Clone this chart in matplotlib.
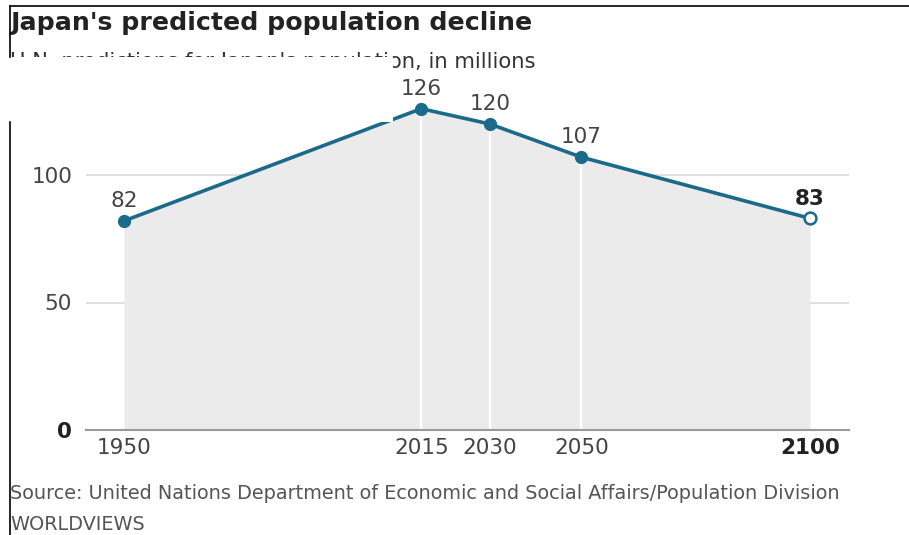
import matplotlib.pyplot as plt
from matplotlib.patches import Rectangle
from matplotlib.lines import Line2D

# datos
anios = [1950, 2015, 2030, 2050, 2100]
poblacion = [82, 126, 120, 107, 83]
etiquetas_y = [0, 50, 100]

titulo = "Japan's predicted population decline"
subtitulo = "U.N. predictions for Japan's population, in millions"
fuente = "Source: United Nations Department of Economic and Social Affairs/Population Division"
firma = "WORLDVIEWS"

AZUL = '#1a6a8a'
GRIS_TEXTO = '#444444'

plt.rcParams['font.family'] = ['DejaVu Sans']

fig = plt.figure(figsize=(9.09, 5.35), dpi=100)
W, H = 909, 535

def fx(px):
    return px / W

def fy(py):
    return 1 - py / H

ax = fig.add_axes([fx(86), fy(430), fx(849) - fx(86), fy(85.75) - fy(430)])
ax.set_xlim(1950 - 38 / 4.573, 2100 + 39 / 4.573)
ax.set_ylim(0, 135)

# rejilla
for v in etiquetas_y[1:]:
    ax.axhline(v, color='#dddddd', lw=1.3, zorder=0)

# area bajo la curva
ax.fill_between(anios, poblacion, 0, color='#ebebeb', zorder=1, lw=0)

# lineas verticales blancas
for a, p in zip(anios[1:-1], poblacion[1:-1]):
    ax.plot([a, a], [0, p], color='white', lw=1.6, zorder=2)

# linea base
ax.axhline(0, color='#999999', lw=1.5, clip_on=False, zorder=3)

# linea y marcadores
ax.plot(anios, poblacion, color=AZUL, lw=2.6, zorder=4, clip_on=False)
ax.plot(anios[:-1], poblacion[:-1], 'o', color=AZUL, ms=8.5, zorder=5,
        clip_on=False)
ax.plot(anios[-1:], poblacion[-1:], 'o', mfc='white', mec=AZUL, mew=1.8,
        ms=8.5, zorder=5, clip_on=False)

# etiquetas de valores
for i, (a, p) in enumerate(zip(anios, poblacion)):
    ultimo = i == len(anios) - 1
    ax.annotate(str(p), (a, p), xytext=(0, 7), textcoords='offset points',
                ha='center', va='bottom', fontsize=15.5,
                color='#222222' if ultimo else GRIS_TEXTO,
                fontweight='bold' if ultimo else 'normal', zorder=6)

# ejes
for s in ax.spines.values():
    s.set_visible(False)
ax.set_yticks(etiquetas_y)
ax.set_yticklabels([str(v) for v in etiquetas_y])
ax.set_xticks(anios)
ax.set_xticklabels([str(a) for a in anios])
ax.tick_params(length=0, labelsize=15.5, colors=GRIS_TEXTO)
ax.tick_params(axis='y', pad=10)
ax.tick_params(axis='x', pad=6)
ax.get_yticklabels()[0].set_fontweight('bold')
ax.get_yticklabels()[0].set_color('#222222')
ax.get_xticklabels()[-1].set_fontweight('bold')
ax.get_xticklabels()[-1].set_color('#222222')

# textos
fig.text(fx(10), fy(30), titulo, fontsize=18.2, fontweight='bold',
         color='#222222', va='baseline', ha='left')
fig.text(fx(10), fy(68), subtitulo, fontsize=15.2, color='#333333',
         va='baseline', ha='left')
fig.text(fx(10), fy(499), fuente, fontsize=13.9, color='#555555',
         va='baseline', ha='left')
fig.text(fx(10), fy(530), firma, fontsize=13.9, color='#555555',
         va='baseline', ha='left')

# recuadro blanco y bordes de la captura
fig.patches.append(Rectangle((fx(9), fy(122)), fx(393) - fx(9), fy(57) - fy(122),
                             transform=fig.transFigure, facecolor='white',
                             edgecolor='none', zorder=10))
fig.lines.append(Line2D([fx(10), 1], [fy(6), fy(6)], transform=fig.transFigure,
                        color='black', lw=1.2, zorder=11))
fig.lines.append(Line2D([fx(10), fx(10)], [fy(6), fy(57)], transform=fig.transFigure,
                        color='black', lw=1.2, zorder=11))
fig.lines.append(Line2D([fx(10), fx(10)], [fy(122), 0], transform=fig.transFigure,
                        color='black', lw=1.2, zorder=11))

fig.savefig('out.png', dpi=100)
